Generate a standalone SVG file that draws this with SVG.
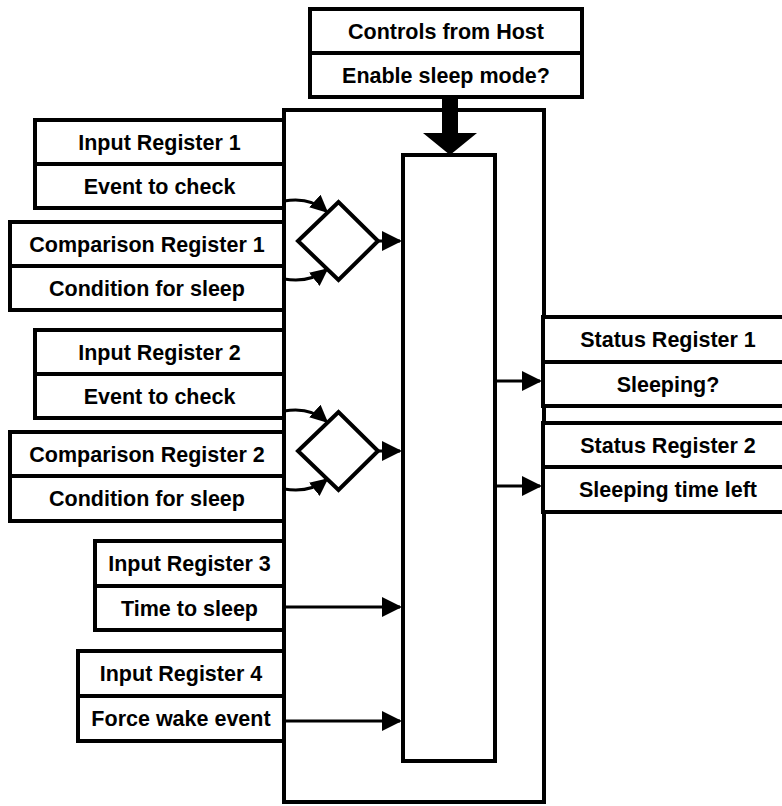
<svg xmlns="http://www.w3.org/2000/svg" width="782" height="806" viewBox="0 0 782 806">
  <style>
    .box { fill: #ffffff; stroke: #000000; stroke-width: 4; }
    .div { stroke: #000000; stroke-width: 4; }
    .lbl { font-family: "Liberation Sans", Arial, Helvetica, sans-serif; font-weight: bold; font-size: 21.5px; fill: #000000; text-anchor: middle; }
    .wire { fill: none; stroke: #000000; stroke-width: 3; }
    .diamond { fill: #ffffff; stroke: #000000; stroke-width: 4; stroke-linejoin: miter; }
  </style>
  <defs>
    <marker id="ah" markerUnits="userSpaceOnUse" markerWidth="20" markerHeight="20" viewBox="0 0 20 20" refX="18" refY="10" orient="auto">
      <path d="M0,0 L20,10 L0,20 z" fill="#000000"/>
    </marker>
    <marker id="ahs" markerUnits="userSpaceOnUse" markerWidth="18" markerHeight="17" viewBox="0 0 18 17" refX="15" refY="8.5" orient="auto">
      <path d="M0,0 L18,8.5 L0,17 z" fill="#000000"/>
    </marker>
  </defs>

  <!-- controller body -->
  <g id="controller">
    <rect class="box" x="284" y="110" width="260" height="692"/>
  </g>
  <g id="core">
    <rect class="box" x="403" y="155" width="92" height="606"/>
  </g>

  <!-- host controls -->
  <g id="host-controls">
    <rect class="box" x="310" y="9" width="272" height="88"/>
    <line class="div" x1="310" y1="53" x2="582" y2="53"/>
    <text class="lbl" x="446" y="39">Controls from Host</text>
    <text class="lbl" x="446" y="83">Enable sleep mode?</text>
  </g>

  <!-- input side registers -->
  <g id="input-register-1">
    <rect class="box" x="35" y="120" width="249" height="88"/>
    <line class="div" x1="35" y1="164" x2="284" y2="164"/>
    <text class="lbl" x="159.5" y="150">Input Register 1</text>
    <text class="lbl" x="159.5" y="194">Event to check</text>
  </g>
  <g id="comparison-register-1">
    <rect class="box" x="10" y="222" width="274" height="88"/>
    <line class="div" x1="10" y1="266" x2="284" y2="266"/>
    <text class="lbl" x="147" y="252">Comparison Register 1</text>
    <text class="lbl" x="147" y="296">Condition for sleep</text>
  </g>
  <g id="input-register-2">
    <rect class="box" x="35" y="330" width="249" height="88"/>
    <line class="div" x1="35" y1="374" x2="284" y2="374"/>
    <text class="lbl" x="159.5" y="360">Input Register 2</text>
    <text class="lbl" x="159.5" y="404">Event to check</text>
  </g>
  <g id="comparison-register-2">
    <rect class="box" x="10" y="432" width="274" height="89"/>
    <line class="div" x1="10" y1="476" x2="284" y2="476"/>
    <text class="lbl" x="147" y="462">Comparison Register 2</text>
    <text class="lbl" x="147" y="506">Condition for sleep</text>
  </g>
  <g id="input-register-3">
    <rect class="box" x="95" y="541" width="189" height="89"/>
    <line class="div" x1="95" y1="586" x2="284" y2="586"/>
    <text class="lbl" x="189.5" y="571">Input Register 3</text>
    <text class="lbl" x="189.5" y="616">Time to sleep</text>
  </g>
  <g id="input-register-4">
    <rect class="box" x="78" y="651" width="206" height="90"/>
    <line class="div" x1="78" y1="696" x2="284" y2="696"/>
    <text class="lbl" x="181" y="681">Input Register 4</text>
    <text class="lbl" x="181" y="726">Force wake event</text>
  </g>

  <!-- comparators -->
  <g id="compare-1">
    <polygon class="diamond" points="298,241 338.5,202 378,241 338.5,280"/>
  </g>
  <g id="compare-2">
    <polygon class="diamond" points="298,451 338.5,412 378,451 338.5,490"/>
  </g>

  <!-- output side registers -->
  <g id="status-register-1">
    <rect class="box" x="543" y="317" width="252" height="89"/>
    <line class="div" x1="543" y1="362" x2="795" y2="362"/>
    <text class="lbl" x="668" y="347">Status Register 1</text>
    <text class="lbl" x="668" y="392">Sleeping?</text>
  </g>
  <g id="status-register-2">
    <rect class="box" x="543" y="423" width="252" height="89"/>
    <line class="div" x1="543" y1="467" x2="795" y2="467"/>
    <text class="lbl" x="668" y="453">Status Register 2</text>
    <text class="lbl" x="668" y="497">Sleeping time left</text>
  </g>

  <!-- connectors -->
  <g id="connectors">
    <polygon points="442,97 458,97 458,133 477,133 450,155 423,133 442,133" fill="#000000"/>

    <path class="wire" d="M284,201 C302,198 316,202 326,211" marker-end="url(#ahs)"/>
    <path class="wire" d="M284,279 C302,282 316,278 326,270" marker-end="url(#ahs)"/>
    <line class="wire" x1="378" y1="241" x2="400" y2="241" marker-end="url(#ah)"/>

    <path class="wire" d="M284,411 C302,408 316,412 326,421" marker-end="url(#ahs)"/>
    <path class="wire" d="M284,489 C302,492 316,488 326,480" marker-end="url(#ahs)"/>
    <line class="wire" x1="378" y1="451" x2="400" y2="451" marker-end="url(#ah)"/>

    <line class="wire" x1="284" y1="607" x2="400" y2="607" marker-end="url(#ah)"/>
    <line class="wire" x1="284" y1="721" x2="400" y2="721" marker-end="url(#ah)"/>

    <line class="wire" x1="495" y1="381" x2="540" y2="381" marker-end="url(#ah)"/>
    <line class="wire" x1="495" y1="486" x2="540" y2="486" marker-end="url(#ah)"/>
  </g>
</svg>
